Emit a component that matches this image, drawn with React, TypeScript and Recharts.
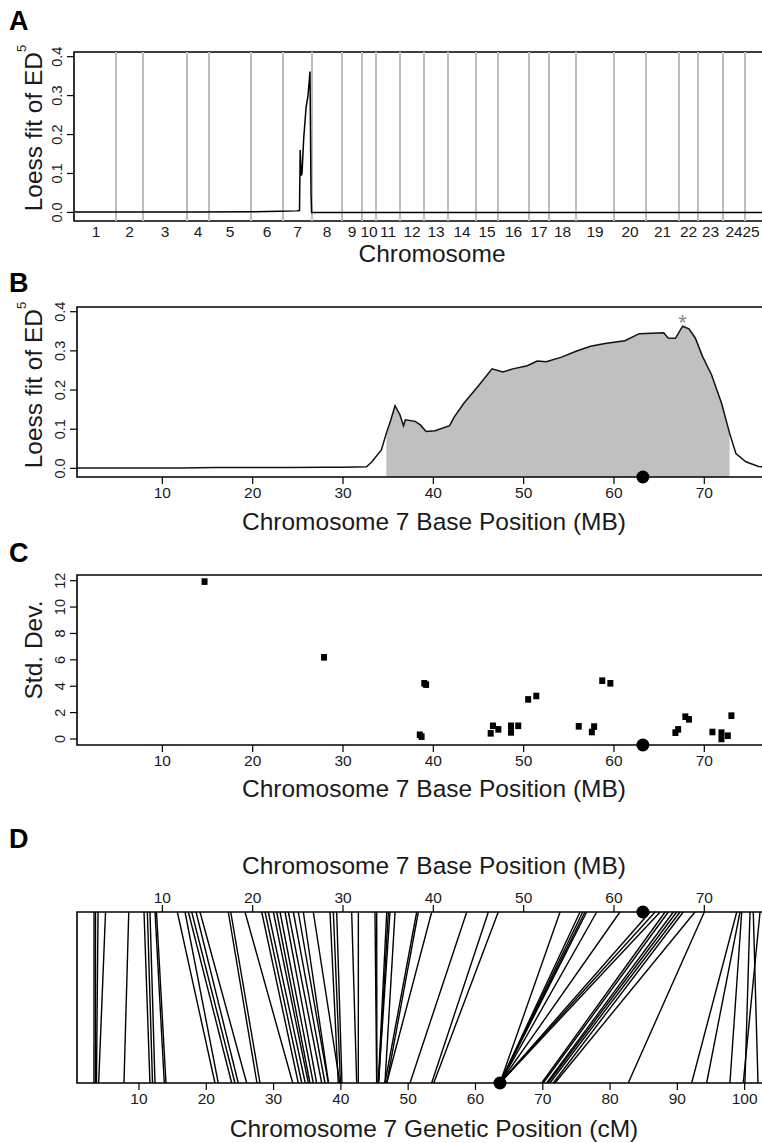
import React from "react";
import {
  LineChart, Line, ComposedChart, Area, ScatterChart, Scatter,
  XAxis, YAxis, ReferenceLine, ReferenceArea, ReferenceDot,
} from "recharts";

const FONT = "'Liberation Sans', Arial, Helvetica, sans-serif";
const NARROW = "'Liberation Sans Narrow', 'Arial Narrow', 'Liberation Sans', Arial, sans-serif";
const INK = "#1a1a1a";

// ---- panel A: genome-wide loess fit (x = genome index) ----
const chrEnds = [41, 68, 112, 134, 176, 208, 237, 267, 287, 301, 325, 349, 373, 401, 423, 454, 474, 501, 539, 571, 604, 623, 648, 670, 682];
const genomeStart = 1;
const gwPos = [0, 60, 120, 180, 205, 222, 224.5, 225.2, 226.2, 227, 228.7, 231.1, 233, 235, 236, 236.6, 250, 400, 550, 715];
const gwLoess = [0.001, 0.001, 0.001, 0.002, 0.003, 0.004, 0.005, 0.16, 0.095, 0.1, 0.19, 0.27, 0.3, 0.362, 0.05, 0.0, 0.0, 0.0, 0.0, 0.0];

// ---- panel B: chromosome 7 loess fit ----
const chr7Mb = [0.6, 4, 8, 12, 16, 20, 24, 28, 30, 32.6, 33.2, 34.25, 34.8, 35.3, 35.76, 36.3, 36.7, 36.9, 38.0, 38.56, 39.2, 40.2, 41.8, 42.3, 43.4, 45.0, 46.5, 47.7, 48.8, 50.4, 51.5, 52.5, 54.2, 55.8, 57.4, 59.0, 61.2, 62.8, 65.5, 66.0, 66.8, 67.6, 68.3, 69.0, 69.8, 70.8, 71.9, 72.8, 73.5, 74.6, 76.0, 77.3];
const chr7Loess = [0.001, 0.001, 0.001, 0.001, 0.002, 0.002, 0.002, 0.003, 0.003, 0.004, 0.017, 0.047, 0.09, 0.124, 0.16, 0.137, 0.109, 0.124, 0.12, 0.111, 0.094, 0.096, 0.109, 0.131, 0.167, 0.211, 0.254, 0.246, 0.254, 0.262, 0.274, 0.272, 0.284, 0.299, 0.312, 0.319, 0.326, 0.344, 0.346, 0.333, 0.332, 0.363, 0.356, 0.333, 0.286, 0.239, 0.167, 0.09, 0.038, 0.017, 0.005, 0.002];
const intervalStart = 34.8;
const intervalEnd = 72.8;
const peakMb = 67.6;
const peakLoess = 0.363;
const candidateMb = 63.2;

// ---- panel C: std. dev. per marker ----
const sdMb = [14.67, 27.9, 38.5, 38.7, 39.0, 39.2, 46.35, 46.6, 47.2, 48.6, 48.6, 49.4, 50.5, 51.4, 56.1, 57.55, 57.8, 58.7, 59.6, 66.8, 67.1, 67.9, 68.3, 70.9, 71.9, 71.9, 72.6, 73.0];
const sdVal = [11.93, 6.19, 0.32, 0.18, 4.22, 4.12, 0.43, 1.0, 0.73, 1.0, 0.5, 1.0, 3.0, 3.26, 0.96, 0.53, 0.94, 4.42, 4.22, 0.48, 0.73, 1.69, 1.49, 0.53, 0.48, 0.0, 0.25, 1.77];

// ---- panel D: physical vs genetic map ----
const markerMb = [2.44, 2.6, 2.88, 3.71, 6.28, 7.97, 8.34, 8.63, 9.19, 9.35, 11.66, 12.51, 12.88, 13.25, 13.73, 14.17, 17.3, 17.57, 19.15, 21.0, 21.37, 21.73, 22.29, 22.66, 23.03, 23.58, 23.95, 24.5, 25.05, 25.61, 26.71, 28.56, 28.93, 29.3, 30.96, 31.7, 33.54, 33.73, 34.84, 35.02, 35.2, 35.76, 38.16, 38.34, 39.82, 43.7, 46.09, 47.19, 54.03, 56.24, 56.54, 56.79, 56.98, 58.09, 60.66, 64.0, 64.55, 65.11, 65.66, 66.01, 66.57, 66.94, 67.31, 67.67, 68.97, 70.0, 73.59, 73.95, 74.14, 75.06, 75.42, 76.17];
const markerCm = [3.31, 3.54, 3.68, 4.01, 7.77, 11.63, 12.01, 12.38, 13.76, 14.01, 21.29, 21.78, 23.77, 24.26, 24.75, 26.0, 27.53, 27.98, 32.85, 33.67, 34.18, 34.71, 35.17, 35.41, 35.9, 36.4, 37.15, 37.64, 38.13, 38.17, 39.84, 39.61, 39.94, 40.16, 42.35, 42.59, 45.32, 45.35, 45.56, 45.6, 45.59, 46.55, 46.55, 46.81, 46.81, 50.27, 53.49, 53.8, 63.64, 63.64, 63.64, 63.64, 63.64, 63.64, 63.64, 63.64, 63.64, 63.64, 69.84, 70.07, 70.58, 70.77, 71.07, 71.56, 71.81, 82.7, 92.12, 94.35, 97.81, 100.04, 101.98, 99.79];
const candidateCm = 63.64;

const mbTicks = [10, 20, 30, 40, 50, 60, 70];
const cmTicks = [10, 20, 30, 40, 50, 60, 70, 80, 90, 100];
const loessTicks = [0, 0.1, 0.2, 0.3, 0.4];
const sdTicks = [0, 2, 4, 6, 8, 10, 12];

const GW_DOMAIN: [number, number] = [-1, 715];
const MB_DOMAIN: [number, number] = [0.55, 79.93];
const CM_DOMAIN: [number, number] = [0.79, 107.33];
const LOESS_DOMAIN: [number, number] = [-0.022, 0.412];
const SD_DOMAIN: [number, number] = [-0.455, 12.43];

const chrStarts = [genomeStart, ...chrEnds.slice(0, -1)];
const chrCenters = chrEnds.map((e, i) => (chrStarts[i] + e) / 2);

// Mb value expressed in the cM axis' domain (both axes span the same plot width)
const mbOnCmAxis = (mb: number) =>
  CM_DOMAIN[0] + ((mb - MB_DOMAIN[0]) * (CM_DOMAIN[1] - CM_DOMAIN[0])) / (MB_DOMAIN[1] - MB_DOMAIN[0]);

const xTickStyle = { fontSize: 15.5, fill: INK, fontFamily: NARROW };
const tickLineStyle = { stroke: "#000", strokeWidth: 1.2 };

const RotTick = (props: any) => {
  const { x, y, payload, digits } = props;
  return (
    <text x={x} y={y} transform={`rotate(-90 ${x} ${y})`} textAnchor="middle"
      fontSize={14.5} fill={INK} fontFamily={FONT}>
      {Number(payload.value).toFixed(digits)}
    </text>
  );
};

function PanelA() {
  const data = gwPos.map((x, i) => ({ x, y: gwLoess[i] }));
  return (
    <LineChart width={800} height={215} data={data} margin={{ top: 12, right: 10, bottom: 4, left: 0 }}>
      <XAxis dataKey="x" type="number" domain={GW_DOMAIN} allowDataOverflow ticks={chrCenters}
        interval={0} tickLine={false} axisLine={false} tickSize={0} tickMargin={5} height={30}
        tick={xTickStyle} tickFormatter={(v: number) => String(chrCenters.indexOf(v) + 1)} />
      <YAxis type="number" domain={LOESS_DOMAIN} allowDataOverflow ticks={loessTicks} interval={0}
        width={74} axisLine={false} tickSize={7} tickMargin={5} tickLine={tickLineStyle}
        tick={(p: any) => <RotTick {...p} digits={1} />} />
      {chrEnds.slice(0, -1).map((b) => (
        <ReferenceLine key={b} x={b} stroke="#bdbdbd" strokeWidth={2} />
      ))}
      <Line dataKey="y" type="linear" stroke="#000" strokeWidth={1.5} dot={false} isAnimationActive={false} />
      <ReferenceArea x1={GW_DOMAIN[0]} x2={GW_DOMAIN[1]} y1={LOESS_DOMAIN[0]} y2={LOESS_DOMAIN[1]}
        fill="none" stroke="#000" strokeWidth={1.6} ifOverflow="visible" />
    </LineChart>
  );
}

function PanelB() {
  const data = chr7Mb.map((x, i) => ({
    x,
    y: chr7Loess[i],
    fill: x >= intervalStart && x <= intervalEnd ? chr7Loess[i] : null,
  }));
  return (
    <ComposedChart width={800} height={212} data={data} margin={{ top: 12, right: 6, bottom: 0, left: 0 }}>
      <XAxis dataKey="x" type="number" domain={MB_DOMAIN} allowDataOverflow ticks={mbTicks} interval={0}
        axisLine={false} tickSize={7} tickMargin={3} tickLine={tickLineStyle} height={30} tick={xTickStyle} />
      <YAxis type="number" domain={LOESS_DOMAIN} allowDataOverflow ticks={loessTicks} interval={0}
        width={77} axisLine={false} tickSize={7} tickMargin={5} tickLine={tickLineStyle}
        tick={(p: any) => <RotTick {...p} digits={1} />} />
      <Area dataKey="fill" type="linear" baseValue={LOESS_DOMAIN[0]} fill="#c0c0c0" fillOpacity={1}
        stroke="none" connectNulls={false} isAnimationActive={false} />
      <Line dataKey="y" type="linear" stroke="#111" strokeWidth={1.5} dot={false} isAnimationActive={false} />
      <ReferenceArea x1={MB_DOMAIN[0]} x2={MB_DOMAIN[1]} y1={LOESS_DOMAIN[0]} y2={LOESS_DOMAIN[1]}
        fill="none" stroke="#000" strokeWidth={1.6} ifOverflow="visible" />
      <ReferenceDot x={peakMb} y={peakLoess} ifOverflow="visible"
        shape={(p: any) => (
          <text x={p.cx} y={p.cy + 4} textAnchor="middle" fontSize={22} fill="#8c8c8c" fontFamily={FONT}>*</text>
        )} />
      <ReferenceDot x={candidateMb} y={LOESS_DOMAIN[0]} r={6.5} fill="#000" stroke="none" ifOverflow="visible" />
    </ComposedChart>
  );
}

function PanelC() {
  const data = sdMb.map((x, i) => ({ x, y: sdVal[i] }));
  return (
    <ScatterChart width={800} height={212} margin={{ top: 12, right: 6, bottom: 0, left: 0 }}>
      <XAxis dataKey="x" type="number" domain={MB_DOMAIN} allowDataOverflow ticks={mbTicks} interval={0}
        axisLine={false} tickSize={7} tickMargin={3} tickLine={tickLineStyle} height={30} tick={xTickStyle} />
      <YAxis dataKey="y" type="number" domain={SD_DOMAIN} allowDataOverflow ticks={sdTicks} interval={0}
        width={77} axisLine={false} tickSize={7} tickMargin={5} tickLine={tickLineStyle}
        tick={(p: any) => <RotTick {...p} digits={0} />} />
      <Scatter data={data} isAnimationActive={false}
        shape={(p: any) => <rect x={p.cx - 3} y={p.cy - 3.3} width={6} height={6.6} fill="#000" />} />
      <ReferenceArea x1={MB_DOMAIN[0]} x2={MB_DOMAIN[1]} y1={SD_DOMAIN[0]} y2={SD_DOMAIN[1]}
        fill="none" stroke="#000" strokeWidth={1.6} ifOverflow="visible" />
      <ReferenceDot x={candidateMb} y={SD_DOMAIN[0]} r={6.5} fill="#000" stroke="none" ifOverflow="visible" />
    </ScatterChart>
  );
}

function PanelD() {
  return (
    <LineChart width={800} height={224} margin={{ top: 0, right: 6, bottom: 0, left: 77 }}>
      <XAxis xAxisId="mb" orientation="top" dataKey="x" type="number" domain={MB_DOMAIN} allowDataOverflow
        ticks={mbTicks} interval={0} axisLine={false} tickSize={7} tickMargin={2} tickLine={tickLineStyle}
        height={27} tick={xTickStyle} />
      <XAxis xAxisId="cm" orientation="bottom" dataKey="x" type="number" domain={CM_DOMAIN} allowDataOverflow
        ticks={cmTicks} interval={0} axisLine={false} tickSize={7} tickMargin={3} tickLine={tickLineStyle}
        height={26} tick={xTickStyle} />
      <YAxis type="number" domain={[0, 1]} hide />
      {markerMb.map((mb, i) => (
        <Line key={i} xAxisId="cm" data={[{ x: mbOnCmAxis(mb), y: 1 }, { x: markerCm[i], y: 0 }]}
          dataKey="y" type="linear" stroke="#000" strokeWidth={1.4} dot={false} isAnimationActive={false} />
      ))}
      <ReferenceArea xAxisId="cm" x1={CM_DOMAIN[0]} x2={CM_DOMAIN[1]} y1={0} y2={1}
        fill="none" stroke="#000" strokeWidth={1.6} ifOverflow="visible" />
      <ReferenceDot xAxisId="mb" x={candidateMb} y={1} r={6.5} fill="#000" stroke="none" ifOverflow="visible" />
      <ReferenceDot xAxisId="cm" x={candidateCm} y={0} r={6.5} fill="#000" stroke="none" ifOverflow="visible" />
    </LineChart>
  );
}

export default function App() {
  const title = { fontSize: 24.5, fill: INK, fontFamily: FONT, textAnchor: "middle" as const };
  const letter = { fontSize: 27, fontWeight: 700, fill: "#000", fontFamily: FONT };
  return (
    <div style={{ position: "absolute", left: 0, top: 0, width: 762, height: 1143, overflow: "hidden", background: "#fff" }}>
      <div style={{ position: "absolute", left: 0, top: 40 }}><PanelA /></div>
      <div style={{ position: "absolute", left: 0, top: 295 }}><PanelB /></div>
      <div style={{ position: "absolute", left: 0, top: 563 }}><PanelC /></div>
      <div style={{ position: "absolute", left: 0, top: 885 }}><PanelD /></div>
      <svg width={762} height={1143} style={{ position: "absolute", left: 0, top: 0, pointerEvents: "none" }}>
        <text x={9} y={30} {...letter}>A</text>
        <text x={9} y={292} {...letter}>B</text>
        <text x={9} y={562} {...letter}>C</text>
        <text x={9} y={848} {...letter}>D</text>

        <text x={41.5} y={128} transform="rotate(-90 41.5 128)" {...title}>
          Loess fit of ED<tspan dy={-16} fontSize={13}>5</tspan>
        </text>
        <text x={41.5} y={385} transform="rotate(-90 41.5 385)" {...title}>
          Loess fit of ED<tspan dy={-16} fontSize={13}>5</tspan>
        </text>
        <text x={41.5} y={650} transform="rotate(-90 41.5 650)" {...title}>Std. Dev.</text>

        <text x={432} y={262} {...title}>Chromosome</text>
        <text x={434} y={530} {...title}>Chromosome 7 Base Position (MB)</text>
        <text x={434} y={797} {...title}>Chromosome 7 Base Position (MB)</text>
        <text x={434} y={874} {...title}>Chromosome 7 Base Position (MB)</text>
        <text x={434} y={1137} {...title}>Chromosome 7 Genetic Position (cM)</text>
      </svg>
    </div>
  );
}
